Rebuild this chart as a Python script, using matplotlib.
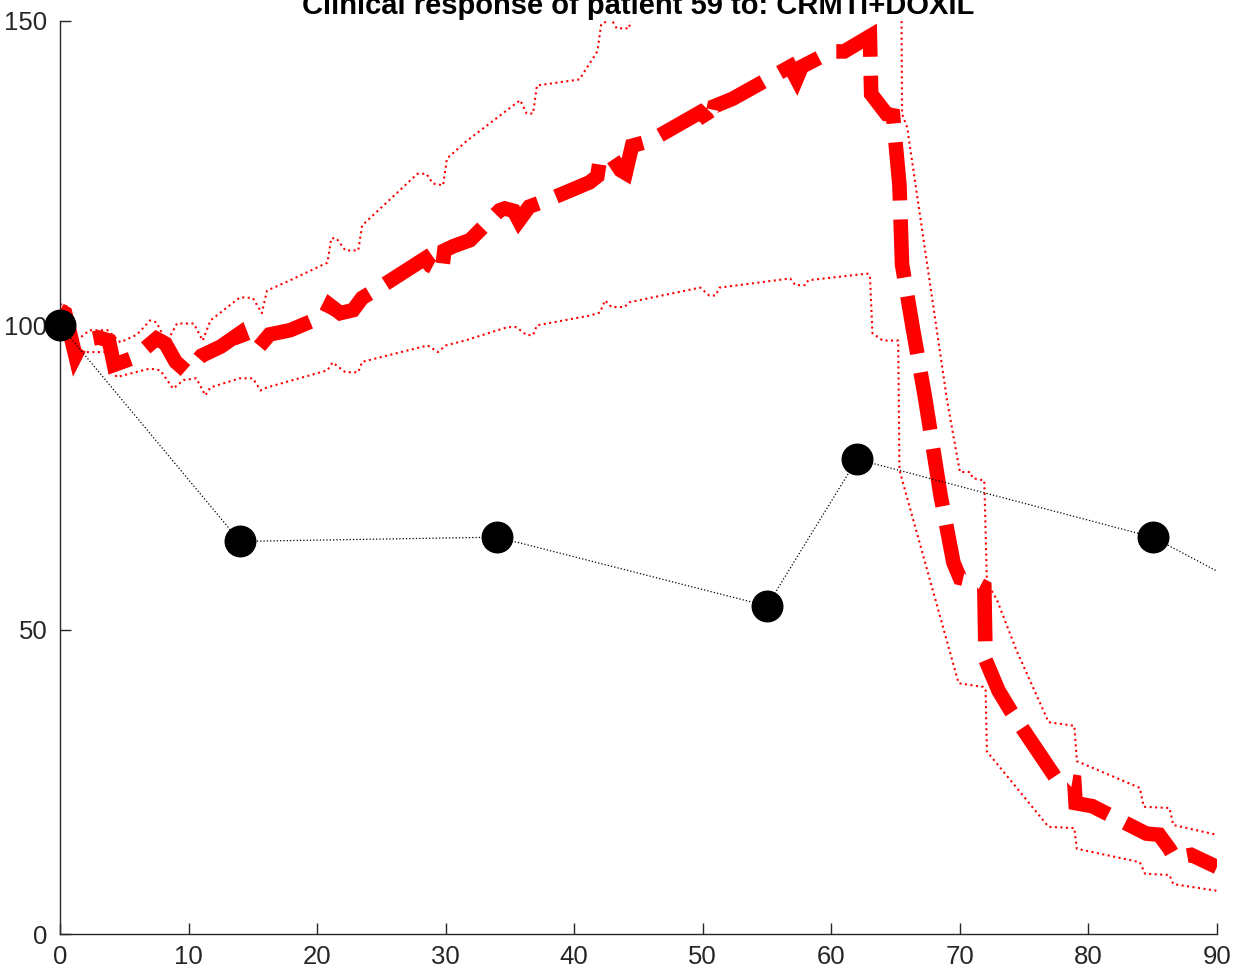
import numpy as np
import matplotlib
matplotlib.use('Agg')
import matplotlib.pyplot as plt

plt.rcParams['font.family'] = ['Liberation Sans', 'DejaVu Sans']

# datos observados (dias, respuesta)
obs_days = [0, 14, 34, 55, 62, 85, 97]
obs_vals = [100, 64.5, 65.2, 53.9, 78.0, 65.2, 51.8]

# prediccion media
pred_days = [0.0, 0.4, 1.2, 1.8, 3.0, 3.8, 4.2, 5.5, 6.5, 7.5, 8.2, 9.0, 9.8, 10.2, 11.0,
             12.5, 14.0, 14.4, 15.5, 16.3, 17.9, 20.6, 21.0, 21.8, 22.8, 23.5, 24.7, 28.4,
             28.8, 29.7, 29.9, 30.6, 31.9, 34.2, 34.6, 35.3, 35.7, 36.5, 37.8, 39.3, 41.2,
             41.8, 42.0, 43.0, 43.6, 44.0, 44.5, 45.9, 49.8, 50.3, 50.6, 50.9, 52.3, 56.8,
             57.3, 57.7, 60.0, 61.0, 63.0, 63.1, 64.3, 64.8, 65.3, 65.5, 66.3, 67.3, 67.9,
             68.5, 69.5, 70.0, 71.0, 71.9, 72.0, 73.0, 74.0, 77.5, 78.9, 79.0, 80.3, 84.5,
             85.5, 86.3, 86.7, 88.0, 90.0]
pred_vals = [102.5, 102, 95, 97.5, 98, 97.5, 93.5, 94.5, 96, 97.8, 97, 94, 92.5, 93, 95,
             96.5, 98.7, 96.5, 96.5, 98.5, 99.2, 101.6, 103.3, 102, 102.5, 104.5, 106, 111,
             109.8, 108.8, 112.3, 113, 114, 118.9, 119.2, 118.8, 117.2, 119.5, 120.5, 121.8, 123.5,
             124.5, 127.3, 127.4, 125.5, 125, 129.5, 130.3, 135, 134, 133, 136, 137.2, 142.5,
             140.5, 142.5, 145, 145, 147.5, 138, 134.7, 134.5, 123, 110, 100, 88, 80,
             72, 61, 58.5, 58, 57, 45, 40, 36.5, 25.5, 25, 21.5, 21, 16.5,
             16.3, 14, 12.5, 13, 11]

# banda superior
up_days = [0.0, 0.7, 1.3, 2.3, 3.7, 4.7, 6.0, 7.0, 7.5, 8.3, 9.1, 10.4, 11.1, 11.7, 14.0,
           15.0, 15.7, 16.1, 17.9, 20.8, 21.1, 21.5, 22.2, 23.2, 23.5, 27.8, 28.5, 29.0,
           29.8, 30.1, 31.7, 35.8, 36.3, 36.8, 37.1, 40.4, 41.8, 42.1, 42.9, 43.3, 44.3,
           44.4, 55.0, 65.4, 65.5, 65.9, 69.0, 70.0, 70.8, 71.0, 71.9, 72.1, 72.9, 74.4,
           76.9, 78.9, 79.1, 84.0, 84.3, 86.3, 86.6, 90.0]
up_vals = [103.5, 103, 97.5, 99.2, 99.2, 97.2, 98.5, 100.8, 100.5, 97.2, 100.3, 100.3, 97.5,
           100.8, 104.6, 104.5, 102, 105.7, 107.4, 110.3, 114.3, 114.3, 112.3, 112.3, 116.4,
           124.9, 124.9, 123.3, 123.0, 127.4, 130.4, 137, 134.8, 134.8, 139.4, 140.4, 145,
           149.5, 150.3, 148.8, 148.8, 160, 170, 175, 134.8, 132.5, 87.7, 75.9, 75.9, 74.9,
           74.5, 57.8, 54.8, 46.6, 34.8, 34.2, 28.4, 24, 20.9, 20.7, 17.9, 16.3]

# banda inferior
low_days = [0.0, 1.0, 1.6, 3.6, 4.4, 7.0, 7.8, 8.8, 9.6, 10.6, 11.3, 11.7, 14.0, 15.0, 15.6,
            16.1, 20.8, 21.2, 22.2, 23.2, 23.5, 28.6, 29.4, 30.0, 31.5, 34.8, 35.5, 36.3,
            36.8, 37.1, 41.2, 42.0, 42.4, 42.9, 43.9, 44.3, 49.8, 50.5, 51.0, 51.3, 56.8,
            57.2, 58.0, 58.2, 62.8, 63.0, 63.2, 64.0, 65.2, 65.3, 69.9, 71.8, 72.0, 72.1,
            76.9, 78.9, 79.1, 84.0, 84.4, 86.3, 86.6, 90.0]
low_vals = [100.5, 94.5, 95.6, 95.6, 91.5, 92.9, 92.6, 89.6, 91, 91.3, 88.5, 89.8, 91.3,
            91.3, 89.3, 89.8, 92.6, 93.9, 92.3, 92.3, 94, 96.7, 95.6, 96.7, 97.5, 99.7,
            99.7, 98.4, 98.4, 100, 101.6, 102.1, 104.1, 103, 103, 103.8, 106.2, 104.9,
            104.9, 106.2, 107.7, 106.6, 106.6, 107.4, 108.5, 108.2, 98.7, 97.5, 97.5, 76.2,
            41.2, 40.6, 40.2, 30, 17.6, 17.4, 14, 11.8, 9.9, 9.7, 8.2, 7.1]

title = 'Clinical response of patient 59 to: CRMTi+DOXIL'

fig = plt.figure(figsize=(12.46, 9.72), dpi=100)
ax = fig.add_axes([60 / 1246, 38 / 972, 1157 / 1246, 913 / 972])

ax.plot(up_days, up_vals, ':', color='#ff0000', lw=1.5, zorder=2)
ax.plot(low_days, low_vals, ':', color='#ff0000', lw=1.5, zorder=2)
ax.plot(pred_days, pred_vals, color='#ff0000', lw=10.5, dashes=(4.0, 1.3),
        solid_joinstyle='miter', dash_joinstyle='miter', zorder=3)

ax.plot(obs_days, obs_vals, ':', color='black', lw=0.9, zorder=4)
d = np.array(obs_days)
v = np.array(obs_vals)
m = d <= 90
ax.plot(d[m], v[m], 'o', color='black', ms=22, zorder=5, clip_on=False)

ax.set_xlim(0, 90)
ax.set_ylim(0, 150)
ax.set_xticks(range(0, 91, 10))
ax.set_yticks([0, 50, 100, 150])

for s in ['top', 'right']:
    ax.spines[s].set_visible(False)
for s in ['left', 'bottom']:
    ax.spines[s].set_color('#262626')
    ax.spines[s].set_linewidth(1.0)
ax.tick_params(direction='in', length=8, width=1.0, colors='#262626',
               labelsize=18.5, pad=8)
ax.tick_params(axis='y', pad=9)

fig.text(638.5 / 1246, 1 - 14 / 972, title, ha='center', va='baseline',
         fontsize=21, fontweight='bold')

fig.savefig('out.png', dpi=100)
